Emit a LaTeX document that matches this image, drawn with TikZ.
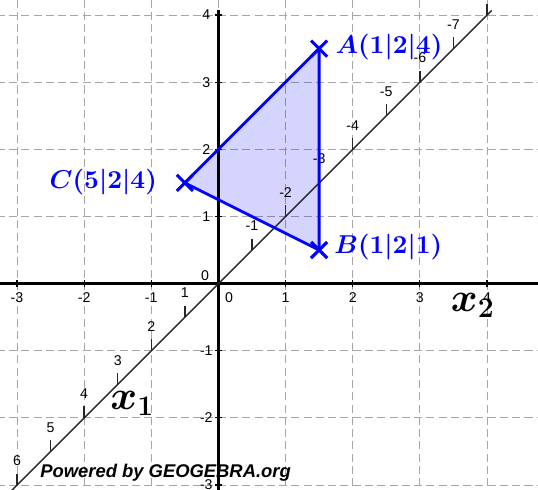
\documentclass[tikz,border=0pt]{standalone}
\usepackage{amsmath,amssymb}
\usepackage{fontspec}
\usepackage{tikz}
\usetikzlibrary{arrows.meta,positioning,calc}
\usepackage{xcolor}
\newfontfamily\geofont{Liberation Sans}

\begin{document}
\begin{tikzpicture}[
    gridline/.style={draw=black!35, line width=0.4pt, dash pattern=on 3.4pt off 1.8pt},
    axisline/.style={draw=black, line width=1.1pt},
    diagline/.style={draw=black!85, line width=0.6pt},
    tcklbl/.style={font=\geofont\fontsize{6}{7}\selectfont, inner sep=0pt},
    ptlbl/.style={font=\fontsize{10.5}{12}\selectfont\boldmath, text=blue, inner sep=0pt},
    crs/.style={draw=blue, line width=1.3pt},
    axlbl/.style={font=\LARGE\boldmath, inner sep=0pt}
]
\useasboundingbox (-3.253,-3.074) rectangle (4.760,4.224);
\clip (-3.253,-3.074) rectangle (4.760,4.224);

% Grid
\foreach \i in {-3,...,4} {
  \draw[gridline] (\i,-3.2) -- (\i,4.3);
  \draw[gridline] (-3.3,\i) -- (4.8,\i);
}

% Triangle fill
\coordinate (A) at (1.5,3.5);
\coordinate (B) at (1.5,0.5);
\coordinate (C) at (-0.5,1.5);
\fill[blue, fill opacity=0.17] (A) -- (B) -- (C) -- cycle;

% Axes x2 and x3
\coordinate (x2l) at (-3.3,0);
\coordinate (x2r) at (4.8,0);
\coordinate (x3b) at (0,-3.2);
\coordinate (x3t) at (0,4.07);
\draw[axisline] (x2l) -- (x2r);
\draw[axisline] (x3b) -- (x3t);
\foreach \i in {-3,...,4} {
  \draw[line width=0.5pt] (\i,-0.05) -- (\i,0.05);
  \draw[line width=0.5pt] (-0.05,\i) -- (0.05,\i);
}
\foreach \i in {-3,-2,-1,1,2,3,4} {
  \node[tcklbl] at (\i,-0.21) {\i};
  \node[tcklbl] at (-0.18,\i) {\i};
}
\node[tcklbl] at (0.16,-0.21) {0};
\node[tcklbl] at (-0.2,0.12) {0};

% Axis x1 (diagonal)
\coordinate (x1a) at (-3.3,-3.3);
\coordinate (x1b) at (4.07,4.07);
\draw[diagline] (x1a) -- (x1b);
\foreach \k in {-8,-7,-6,-5,-4,-3,-2,-1,1,2,3,4,5,6} {
  \draw[diagline] ({0-0.5*(\k)},{0-0.5*(\k)}) -- ++(0,0.17);
}
\foreach \k in {-7,-6,-5,-4,-3,-2,-1,1,2,3,4,5,6} {
  \node[tcklbl] at ({0-0.5*(\k)},{0.36-0.5*(\k)}) {\k};
}

% Triangle edges
\draw[blue, line width=1.2pt] (A) -- (B) -- (C) -- cycle;
\foreach \p in {A,B,C} {
  \draw[crs] ($(\p)+(-0.12,-0.12)$) -- ($(\p)+(0.12,0.12)$);
  \draw[crs] ($(\p)+(-0.12,0.12)$) -- ($(\p)+(0.12,-0.12)$);
}

% Labels
\node[ptlbl, anchor=west] (lA) at (1.74,3.52) {$A(1|2|4)$};
\node[ptlbl, anchor=west] (lB) at (1.72,0.55) {$B(1|2|1)$};
\node[ptlbl, anchor=east] (lC) at (-0.91,1.52) {$C(5|2|4)$};
\node[axlbl] (lx1) at (-1.28,-1.78) {$x_1$};
\node[axlbl] (lx2) at (3.79,-0.33) {$x_2$};

\node[anchor=west, inner sep=0pt, font=\geofont\fontsize{7.8}{9}\selectfont\bfseries\itshape] (pwr) at (-2.66,-2.81) {Powered by GEOGEBRA.org};

\end{tikzpicture}
\end{document}
